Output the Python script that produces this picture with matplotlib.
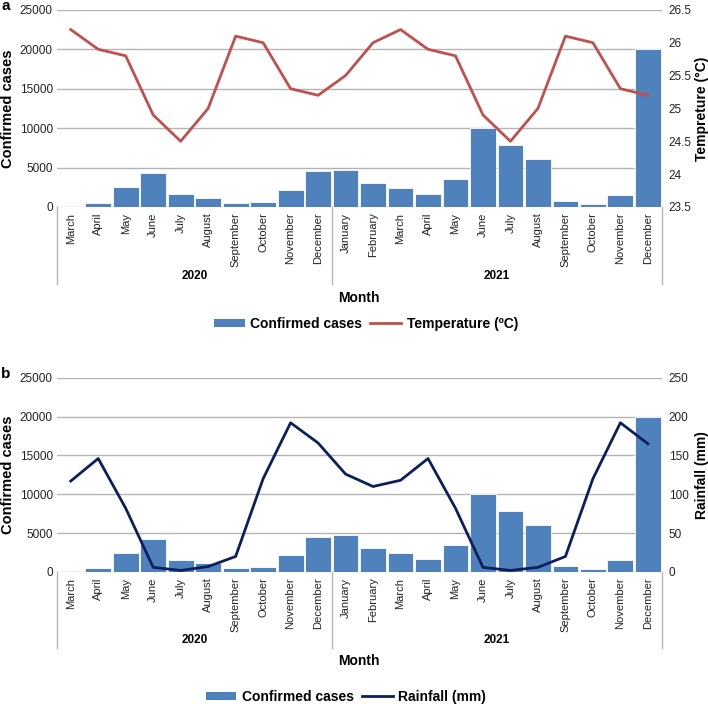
import matplotlib.pyplot as plt
import matplotlib.transforms as mtransforms
from matplotlib.patches import Patch
from matplotlib.lines import Line2D

plt.rcParams['font.family'] = ['Liberation Sans', 'DejaVu Sans']

months = ['March', 'April', 'May', 'June', 'July', 'August', 'September',
          'October', 'November', 'December',
          'January', 'February', 'March', 'April', 'May', 'June', 'July',
          'August', 'September', 'October', 'November', 'December']
years = ['2020', '2021']
year_counts = [10, 12]

cases = [150, 500, 2500, 4300, 1600, 1100, 550, 600, 2200, 4500,
         4700, 3100, 2450, 1700, 3500, 10000, 7800, 6100, 800, 330, 1550, 20000]
temperature = [26.2, 25.9, 25.8, 24.9, 24.5, 25.0, 26.1, 26.0, 25.3, 25.2,
               25.5, 26.0, 26.2, 25.9, 25.8, 24.9, 24.5, 25.0, 26.1, 26.0, 25.3, 25.2]
rainfall = [117, 146, 82, 6, 2, 7, 20, 120, 192, 166,
            126, 110, 118, 146, 82, 6, 2, 6, 20, 120, 192, 165]

BAR = '#4f81bd'
GRID = '#b4b4b4'


def draw_panel(fig, rect, letter, line_vals, line_color, ylim2, yticks2,
               ylabel2, legend_label, legend_xy):
    ax = fig.add_axes(rect)
    x = list(range(len(months)))
    ax.bar(x, cases, width=0.94, color=BAR, edgecolor='white', linewidth=0.6, zorder=2)
    ax.set_xlim(-0.5, len(months) - 0.5)
    ax.set_ylim(0, 25000)
    ax.set_yticks(range(0, 25001, 5000))
    ax.yaxis.grid(True, color=GRID, linewidth=1.0)
    ax.set_axisbelow(True)
    for s in ax.spines.values():
        s.set_visible(False)
    ax.axhline(0, color=GRID, linewidth=1.0, zorder=1)
    ax.tick_params(axis='y', length=0, pad=3, labelsize=8.5, colors='#222222')
    ax.set_xticks(x)
    ax.set_xticklabels(months, rotation=90, fontsize=8, color='#222222')
    ax.tick_params(axis='x', length=0, pad=4)
    ax.set_ylabel('Confirmed cases', fontsize=10.5, fontweight='bold')
    ax.yaxis.set_label_coords(-0.069, 0.5)

    # category separators and year labels under the axis
    trans = mtransforms.blended_transform_factory(ax.transData, ax.transAxes)
    edges = [-0.5]
    for c in year_counts:
        edges.append(edges[-1] + c)
    for e in edges:
        ax.plot([e, e], [0, -0.39], color=GRID, linewidth=1.0,
                transform=trans, clip_on=False)
    for i, yr in enumerate(years):
        mid = (edges[i] + edges[i + 1]) / 2
        ax.text(mid, -0.35, yr, transform=trans, ha='center', va='center',
                fontsize=8.5, fontweight='bold')
    ax.text(0.5, -0.46, 'Month', transform=ax.transAxes, ha='center',
            va='center', fontsize=10, fontweight='bold')
    ax.text(-0.092, 0.998, letter, transform=ax.transAxes, ha='left',
            va='baseline', fontsize=11, fontweight='bold')

    ax2 = ax.twinx()
    ax2.plot(x, line_vals, color=line_color, linewidth=2.0, zorder=3)
    ax2.set_ylim(*ylim2)
    ax2.set_yticks(yticks2)
    ax2.set_yticklabels(['%g' % t for t in yticks2])
    for s in ax2.spines.values():
        s.set_visible(False)
    ax2.tick_params(axis='y', length=0, pad=5, labelsize=8.5, colors='#222222')
    ax2.set_ylabel(ylabel2, fontsize=10, fontweight='bold')
    ax2.yaxis.set_label_coords(1.055, 0.5)

    handles = [Patch(facecolor=BAR, edgecolor='none', label='Confirmed cases'),
               Line2D([0], [0], color=line_color, linewidth=2.0, label=legend_label)]
    fig.legend(handles=handles, loc='center', bbox_to_anchor=legend_xy,
               ncol=2, frameon=False, prop={'weight': 'bold', 'size': 10},
               handlelength=2.2, handleheight=0.55, columnspacing=0.6,
               handletextpad=0.4)


fig = plt.figure(figsize=(7.08, 7.04), dpi=100)

draw_panel(fig, [0.0805, 0.706, 0.854, 0.280], 'a', temperature, '#c0504d',
           (23.5, 26.5), [23.5, 24, 24.5, 25, 25.5, 26, 26.5],
           'Tempreture (°C)', 'Temperature (ºC)', (366 / 708, 1 - 324 / 704))

draw_panel(fig, [0.0805, 0.1875, 0.854, 0.276], 'b', rainfall, '#0c1f5c',
           (0, 250), [0, 50, 100, 150, 200, 250],
           'Rainfall (mm)', 'Rainfall (mm)', (346 / 708, 1 - 697 / 704))

fig.savefig('out.png', dpi=100)
